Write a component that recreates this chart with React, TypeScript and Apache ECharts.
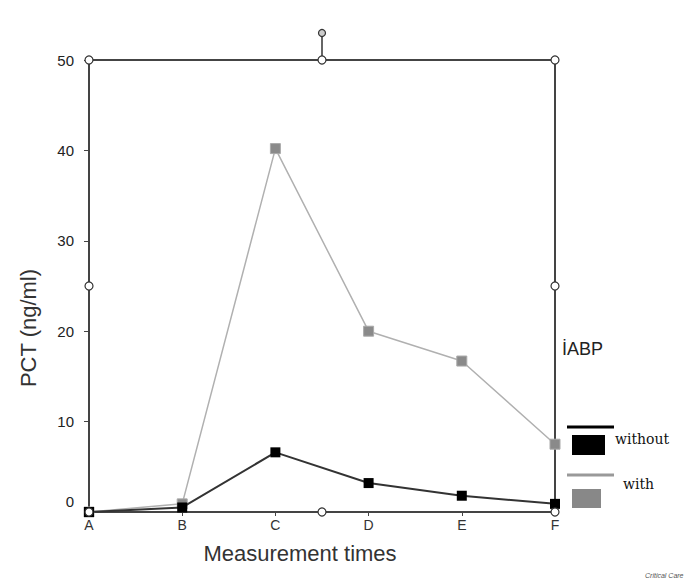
import React, { useEffect, useRef } from "react";
import * as echarts from "echarts";

const categories = ["A", "B", "C", "D", "E", "F"];
const withoutIABP = [0, 0.5, 6.6, 3.2, 1.8, 0.9];
const withIABP = [0, 0.9, 40.2, 20.0, 16.7, 7.5];
const yTicks = [0, 10, 20, 30, 40, 50];

const G = { left: 89, top: 60, width: 466, height: 452 };

export default function App() {
  const ref = useRef<HTMLDivElement>(null);
  useEffect(() => {
    if (!ref.current) return;
    const chart = echarts.init(ref.current, null, { renderer: "svg" });
    const R = G.left + G.width;
    const B = G.top + G.height;
    const midX = G.left + G.width / 2;
    const midY = G.top + G.height / 2;
    const handle = (x: number, y: number) => ({
      type: "circle",
      shape: { cx: x, cy: y, r: 4 },
      style: { fill: "#fff", stroke: "#333", lineWidth: 1.2 },
      z: 100,
    });
    const font = "Arial, Liberation Sans";
    const option: any = {
      animation: false,
      backgroundColor: "#fff",
      grid: {
        left: G.left,
        top: G.top,
        width: G.width,
        height: G.height,
        show: true,
        borderColor: "#444",
        borderWidth: 2,
        backgroundColor: "transparent",
      },
      xAxis: {
        type: "category",
        data: categories,
        boundaryGap: false,
        axisLine: { lineStyle: { color: "#444", width: 2 } },
        axisTick: { show: true, length: 4, lineStyle: { color: "#444" } },
        axisLabel: { color: "#333", fontSize: 14, fontFamily: font, margin: 6 },
        name: "Measurement times",
        nameLocation: "middle",
        nameGap: 30,
        nameTextStyle: { color: "#333", fontSize: 22, fontFamily: font, padding: [0, 44, 0, 0] },
        splitLine: { show: false },
      },
      yAxis: {
        type: "value",
        min: 0,
        max: 50,
        interval: 10,
        axisLine: { show: true, lineStyle: { color: "#444", width: 2 } },
        axisTick: { show: true, length: 5, lineStyle: { color: "#444" } },
        splitLine: { show: false },
        axisLabel: {
          color: "#222",
          fontSize: 15,
          fontFamily: font,
          margin: 15,
          formatter: (v: number) => (yTicks.includes(v) ? (v === 0 ? "{z|0}" : String(v)) : ""),
          rich: { z: { fontSize: 15, color: "#222", fontFamily: font, padding: [0, 0, 22, 0] } },
        },
        name: "PCT (ng/ml)",
        nameLocation: "middle",
        nameGap: 50,
        nameRotate: 90,
        nameTextStyle: { color: "#333", fontSize: 22, fontFamily: font, padding: [0, 84, 0, 0] },
      },
      series: [
        {
          name: "with",
          type: "line",
          data: withIABP,
          symbol: "rect",
          symbolSize: 10,
          lineStyle: { color: "#b0b0b0", width: 1.5 },
          itemStyle: { color: "#8a8a8a", borderColor: "#aaa", borderWidth: 1 },
          z: 2,
        },
        {
          name: "without",
          type: "line",
          data: withoutIABP,
          symbol: "rect",
          symbolSize: 10,
          lineStyle: { color: "#333", width: 2 },
          itemStyle: { color: "#000" },
          z: 3,
        },
      ],
      graphic: [
        handle(G.left, G.top),
        handle(midX, G.top),
        handle(R, G.top),
        handle(G.left, midY),
        handle(R, midY),
        handle(G.left, B),
        handle(midX, B),
        handle(R, B),
        {
          type: "line",
          shape: { x1: midX, y1: 37, x2: midX, y2: G.top - 4 },
          style: { stroke: "#333", lineWidth: 1.5 },
          z: 100,
        },
        {
          type: "circle",
          shape: { cx: midX, cy: 33, r: 3.5 },
          style: { fill: "#ccc", stroke: "#333", lineWidth: 1.2 },
          z: 100,
        },
        {
          type: "text",
          x: 562,
          y: 340,
          style: { text: "İABP", fontSize: 18, fill: "#222", fontFamily: font },
        },
        {
          type: "line",
          shape: { x1: 567, y1: 427, x2: 614, y2: 427 },
          style: { stroke: "#000", lineWidth: 3 },
        },
        { type: "rect", shape: { x: 572, y: 435, width: 33, height: 20 }, style: { fill: "#000" } },
        {
          type: "text",
          x: 615,
          y: 432,
          style: { text: "without", fontSize: 14, fill: "#111", fontFamily: "DejaVu Serif, serif" },
        },
        {
          type: "line",
          shape: { x1: 567, y1: 475, x2: 614, y2: 475 },
          style: { stroke: "#999", lineWidth: 3 },
        },
        { type: "rect", shape: { x: 572, y: 489, width: 29, height: 19 }, style: { fill: "#888" } },
        {
          type: "text",
          x: 623,
          y: 477,
          style: { text: "with", fontSize: 14, fill: "#111", fontFamily: "DejaVu Serif, serif" },
        },
        {
          type: "text",
          x: 645,
          y: 572,
          style: { text: "Critical Care", fontSize: 7, fontStyle: "italic", fill: "#555", fontFamily: font },
        },
      ],
    };
    chart.setOption(option);
    return () => chart.dispose();
  }, []);
  return <div ref={ref} style={{ width: 685, height: 586, position: "absolute", left: 0, top: 0 }} />;
}
